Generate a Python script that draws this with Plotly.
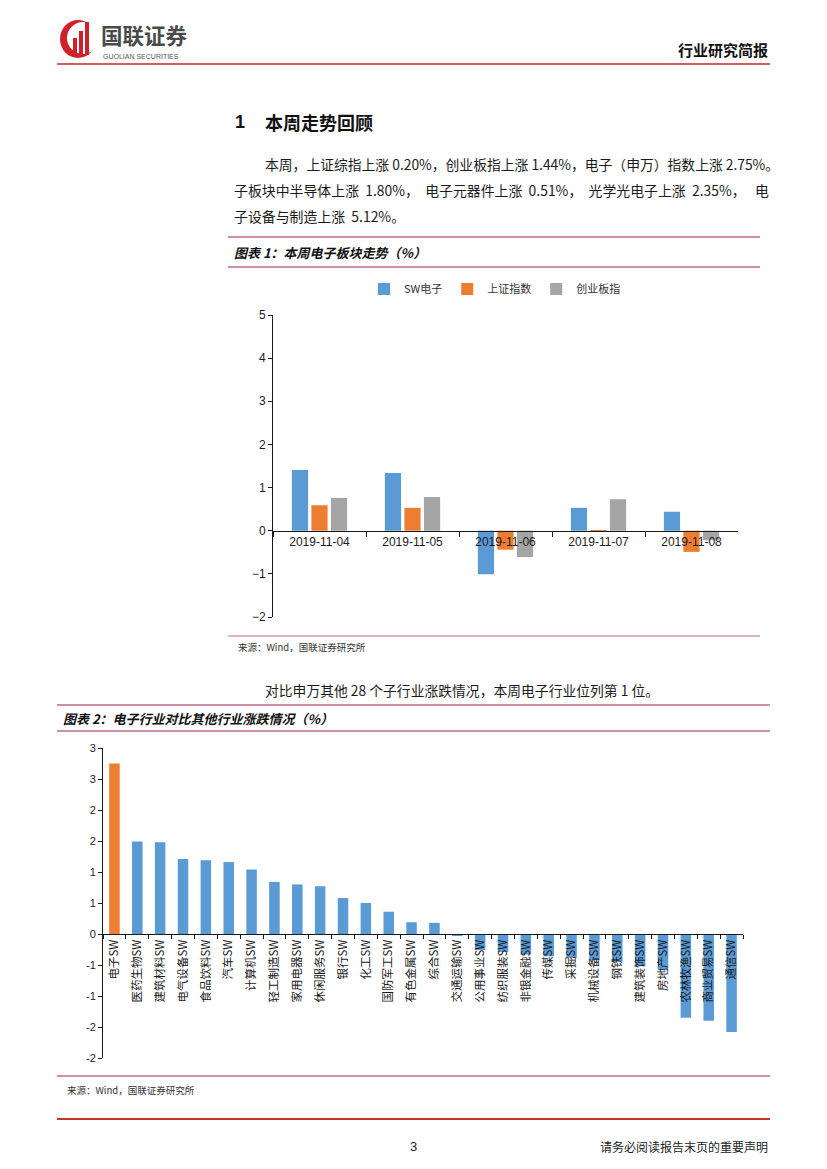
import plotly.graph_objects as go

W, H = 827, 1169
# the page body adds an 8px margin around the figure; compensate so page pixels match
OX, OY = 8, 8

# ---------------- data ----------------
dates = ["2019-11-04", "2019-11-05", "2019-11-06", "2019-11-07", "2019-11-08"]
series1_names = ["SW电子", "上证指数", "创业板指"]
sw_elec = [1.41, 1.34, -1.01, 0.53, 0.44]
sh_index = [0.59, 0.53, -0.44, 0.01, -0.49]
gem_index = [0.76, 0.78, -0.61, 0.73, -0.22]
series1_colors = ["#5B9BD5", "#ED7D31", "#A5A5A5"]
y1_range = [-2, 5]

industries = ["电子SW", "医药生物SW", "建筑材料SW", "电气设备SW", "食品饮料SW", "汽车SW",
              "计算机SW", "轻工制造SW", "家用电器SW", "休闲服务SW", "银行SW", "化工SW",
              "国防军工SW", "有色金属SW", "综合SW", "交通运输SW", "公用事业SW", "纺织服装SW",
              "非银金融SW", "传媒SW", "采掘SW", "机械设备SW", "钢铁SW", "建筑装饰SW",
              "房地产SW", "农林牧渔SW", "商业贸易SW", "通信SW"]
industry_changes = [2.75, 1.49, 1.48, 1.21, 1.19, 1.16, 1.04, 0.84, 0.80, 0.77, 0.58, 0.50,
                    0.36, 0.19, 0.18, -0.02, -0.26, -0.29, -0.33, -0.36, -0.38, -0.42, -0.45,
                    -0.52, -0.58, -1.35, -1.40, -1.58]
highlight = "电子SW"
y2_range = [-2, 3]
y2_tickvals = [-2, -1.5, -1, -0.5, 0, 0.5, 1, 1.5, 2, 2.5, 3]
y2_ticktext = ["-2", "-2", "-1", "-1", "0", "1", "1", "2", "2", "3", "3"]

# ---------------- helpers ----------------
def px(x):
    return (x - OX) / W


def py(y):
    return 1 - (y - OY) / H


CJK = "Noto Sans CJK SC"
LAT = "Liberation Sans"

fig = go.Figure()

# chart 1 traces
for name, vals, col in zip(series1_names, [sw_elec, sh_index, gem_index], series1_colors):
    fig.add_trace(go.Bar(x=dates, y=vals, name=name, marker_color=col,
                         marker_line_width=0, xaxis="x", yaxis="y"))

# chart 2 trace
bar_colors = ["#ED7D31" if c == highlight else "#5B9BD5" for c in industries]
fig.add_trace(go.Bar(x=industries, y=industry_changes, marker_color=bar_colors,
                     marker_line_width=0, width=0.46, showlegend=False,
                     xaxis="x2", yaxis="y2"))

# domains
y1_dom = [py(617), py(315)]
y2_dom = [py(1058), py(748)]


def zero_pos(dom, rng):
    return dom[0] + (0 - rng[0]) / (rng[1] - rng[0]) * (dom[1] - dom[0])


axis_common = dict(showline=True, linecolor="#1a1a1a", linewidth=1, showgrid=False,
                   zeroline=False, fixedrange=True, automargin=False)

fig.update_layout(
    width=W, height=H, margin=dict(l=0, r=0, t=0, b=0, pad=0, autoexpand=False),
    paper_bgcolor="white", plot_bgcolor="rgba(0,0,0,0)",
    barmode="group", bargap=0.37, bargroupgap=0.17,
    font=dict(family=LAT, color="#1a1a1a"),
    xaxis=dict(domain=[px(273), px(738)], type="category", anchor="free",
               position=zero_pos(y1_dom, y1_range), ticks="outside", tickson="boundaries",
               ticklen=5, tickcolor="#1a1a1a", tickfont=dict(size=12, family=LAT, color="#1a1a1a"),
               **axis_common),
    yaxis=dict(domain=y1_dom, range=y1_range, anchor="x", dtick=1, ticks="outside",
               ticklen=4, tickcolor="#1a1a1a", tickfont=dict(size=12, family=LAT, color="#1a1a1a"),
               **axis_common),
    xaxis2=dict(domain=[px(103), px(743)], type="category", anchor="free",
                position=zero_pos(y2_dom, y2_range), ticks="outside", tickson="boundaries",
                ticklen=4, tickcolor="#1a1a1a", tickangle=-90,
                tickfont=dict(size=11.5, family=CJK, color="#1a1a1a"), **axis_common),
    yaxis2=dict(domain=y2_dom, range=y2_range, anchor="x2", tickvals=y2_tickvals,
                ticktext=y2_ticktext, ticks="outside", ticklen=4, tickcolor="#1a1a1a",
                tickfont=dict(size=11, family=LAT, color="#1a1a1a"), **axis_common),
    legend=dict(orientation="h", x=px(495), y=py(289), xanchor="center", yanchor="middle",
                font=dict(size=11, family=CJK, color="#333333"), itemwidth=30,
                bgcolor="rgba(0,0,0,0)", traceorder="normal"),
)

shapes = []


def hline(x0, x1, y, color, w=1.0):
    shapes.append(dict(type="line", xref="paper", yref="paper", x0=px(x0), x1=px(x1),
                       y0=py(y), y1=py(y), line=dict(color=color, width=w)))


# header / section lines
hline(57, 770, 64, "#C8202C", 1.6)
hline(228, 760, 237, "#9E2448", 1.2)
hline(228, 760, 267, "#9E2448", 1.2)
hline(228, 760, 636, "#C4628A", 1.0)
hline(57, 770, 705, "#9E2448", 1.2)
hline(57, 770, 731, "#9E2448", 1.2)
hline(57, 770, 1076, "#CC6A8E", 1.6)
hline(57, 770, 1119, "#C0392B", 2.0)

# logo icon
shapes.append(dict(type="circle", xref="paper", yref="paper", x0=px(60), x1=px(96),
                   y0=py(58), y1=py(20), fillcolor="#D0202A", line=dict(width=0)))
shapes.append(dict(type="circle", xref="paper", yref="paper", x0=px(67), x1=px(99),
                   y0=py(54), y1=py(22), fillcolor="white", line=dict(width=0)))
for bx, top in [(73, 38), (79, 31), (85, 22)]:
    shapes.append(dict(type="rect", xref="paper", yref="paper", x0=px(bx), x1=px(bx + 4),
                       y0=py(55), y1=py(top), fillcolor="#D0202A", line=dict(width=0)))
fig.update_layout(shapes=shapes)

ann = []


def text(x, y, s, size, family=CJK, color="#1a1a1a", anchor="left", bold=False, italic=False):
    if bold:
        s = "<b>" + s + "</b>"
    if italic:
        s = "<i>" + s + "</i>"
    ann.append(dict(xref="paper", yref="paper", x=px(x), y=py(y), text=s, showarrow=False,
                    xanchor=anchor, yanchor="middle",
                    font=dict(size=size, family=family, color=color)))


# header
text(99, 35, "国联证券", 21.5, CJK, "#4a4a4a", bold=True)
text(101, 56, "GUOLIAN SECURITIES", 7, LAT, "#555555")
text(770, 50, "行业研究简报", 15, CJK, "#111111", anchor="right", bold=True)

# section + paragraph
text(233, 122, "1", 18, LAT, "#111111", bold=True)
text(263, 122, "本周走势回顾", 18, CJK, "#111111", bold=True)
text(263, 164, "本周，上证综指上涨 0.20%，创业板指上涨 1.44%，电子（申万）指数上涨 2.75%。", 13.8)
text(232, 190, "子板块中半导体上涨  1.80%，  电子元器件上涨  0.51%，  光学光电子上涨  2.35%，   电", 13.9)
text(232, 216, "子设备与制造上涨  5.12%。", 13.9)

# chart 1 title / source
text(232, 253, "图表 1：本周电子板块走势（%）", 13, CJK, "#111111", bold=True, italic=True)
text(236, 647, "来源：Wind，国联证券研究所", 9.5, CJK, "#333333")

# between charts
text(263, 690, "对比申万其他 28 个子行业涨跌情况，本周电子行业位列第 1 位。", 13.8)

# chart 2 title / source
text(61, 718, "图表 2：电子行业对比其他行业涨跌情况（%）", 13, CJK, "#111111", bold=True, italic=True)
text(65, 1090, "来源：Wind，国联证券研究所", 9.5, CJK, "#333333")

# footer
text(413, 1146, "3", 13, LAT, "#222222", anchor="center")
text(770, 1146, "请务必阅读报告末页的重要声明", 12, CJK, "#222222", anchor="right")

fig.update_layout(annotations=ann)

fig.write_html("out.html", config={"displayModeBar": False})
